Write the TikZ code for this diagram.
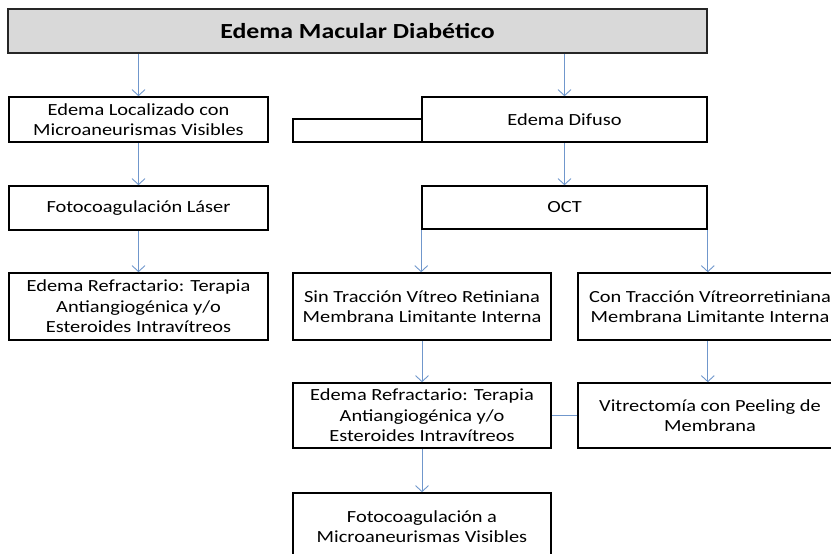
\documentclass[tikz,border=0pt]{standalone}
\usepackage{fontspec}
\setmainfont{Carlito}[FakeStretch=1.2]
\usetikzlibrary{arrows.meta,calc}
\definecolor{arrblue}{HTML}{7097CC}
\definecolor{titlegray}{HTML}{D9D9D9}
\tikzset{
  box/.style={draw=black, line width=1.6pt, fill=white, align=center, inner sep=0pt,
    font=\fontsize{17}{20.5}\selectfont},
  arr/.style={draw=arrblue, line width=0.9pt, -{Straight Barb[length=6pt,width=13pt,line width=0.9pt]}},
  conn/.style={draw=arrblue, line width=0.9pt},
}
\begin{document}
\begin{tikzpicture}[x=1pt,y=-1pt]
\useasboundingbox (0,0) rectangle (831,554);
\node[box, fill=titlegray, draw=black!85, minimum width=699pt, minimum height=44pt,
  font=\fontsize{21.5}{24}\bfseries] (top) at (357.5,31) {Edema Macular Diabético};
\node[box, minimum width=259pt, minimum height=45pt] (loc) at (138.5,119.5) {Edema Localizado con\\Microaneurismas Visibles};
\node[box, minimum width=259pt, minimum height=44pt] (foto) at (138.5,208) {Fotocoagulación Láser};
\node[box, minimum width=259pt, minimum height=67pt] (ref1) at (138.5,306.5) {Edema Refractario: Terapia\\Antiangiogénica y/o\\Esteroides Intravítreos};
\node[box, minimum width=130pt, minimum height=23pt] (small) at (358,130.5) {};
\node[box, minimum width=285pt, minimum height=45pt] (dif) at (564.5,119.5) {Edema Difuso};
\node[box, minimum width=285pt, minimum height=43pt] (oct) at (564.5,207.5) {OCT};
\node[box, minimum width=258pt, minimum height=67pt] (sin) at (422,306.5) {Sin Tracción Vítreo Retiniana\\Membrana Limitante Interna};
\node[box, minimum width=264pt, minimum height=67pt] (con) at (710,306.5) {Con Tracción Vítreorretiniana\\Membrana Limitante Interna};
\node[box, minimum width=264pt, minimum height=65pt] (vit) at (710,415.5) {Vitrectomía con Peeling de\\Membrana};
\node[box, minimum width=258pt, minimum height=65pt] (ref2) at (422,415.5) {Edema Refractario: Terapia\\Antiangiogénica y/o\\Esteroides Intravítreos};
\node[box, minimum width=258pt, minimum height=67pt] (fa) at (422,526.5) {Fotocoagulación a\\Microaneurismas Visibles};
\draw[arr] (top.south -| loc) -- (loc);
\draw[arr] (top.south -| dif) -- (dif);
\draw[arr] (loc) -- (foto);
\draw[arr] (foto) -- (ref1);
\draw[arr] (dif) -- (oct);
\draw[arr] (oct.south west) -- (oct.south west |- sin.north);
\draw[arr] (oct.south east) -- (oct.south east |- con.north);
\draw[arr] (sin) -- (ref2);
\draw[arr] (con.south -| oct.south east) -- (vit.north -| oct.south east);
\draw[conn] (vit.west) -- (ref2.east);
\draw[arr] (ref2) -- (fa);
\end{tikzpicture}
\end{document}
